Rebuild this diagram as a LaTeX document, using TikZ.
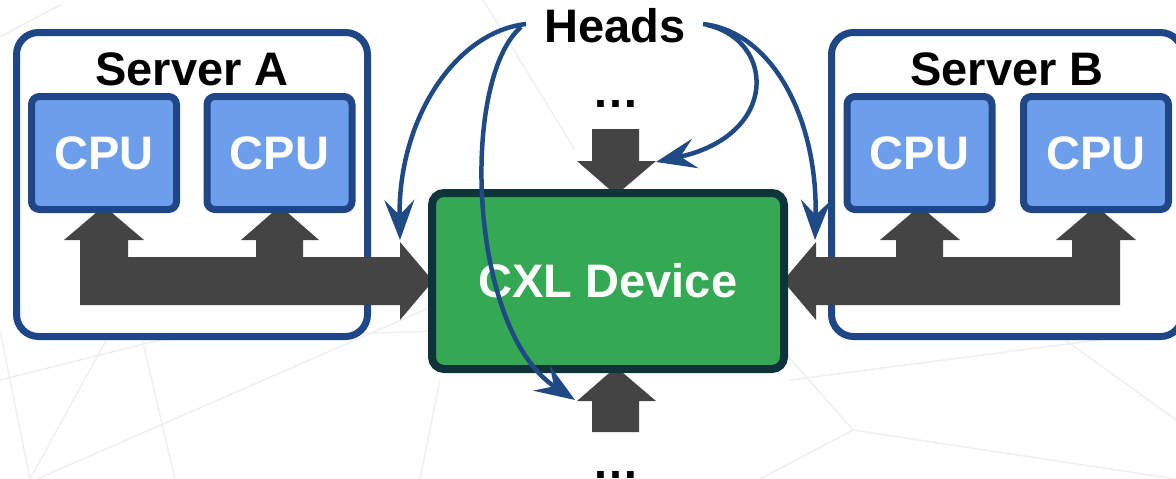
\documentclass[tikz,border=0pt]{standalone}
\usepackage{fontspec}
\setmainfont{Liberation Sans}
\usetikzlibrary{arrows.meta}
\definecolor{srvblue}{HTML}{1F4788}
\definecolor{cpufill}{HTML}{6D9EEB}
\definecolor{cxlfill}{HTML}{34A853}
\definecolor{cxledge}{HTML}{0E3439}
\definecolor{busgray}{HTML}{444444}
\definecolor{bgline}{HTML}{F0F0F0}
\definecolor{headblue}{HTML}{1F4A85}

\begin{document}
\begin{tikzpicture}[x=1pt,y=-1pt,
  lbl/.style={font=\fontsize{47}{56}\selectfont\bfseries},
  serverbox/.style={draw=srvblue,line width=7pt,rounded corners=22pt,fill=white,
    minimum width=351pt,minimum height=304pt,inner sep=0pt},
  cpubox/.style={draw=srvblue,line width=7pt,rounded corners=8pt,fill=cpufill,
    minimum width=145pt,minimum height=113pt,inner sep=0pt,text=white,lbl},
  cxlbox/.style={draw=cxledge,line width=8pt,rounded corners=12pt,fill=cxlfill,
    minimum width=352pt,minimum height=176pt,inner sep=0pt,text=white,lbl},
  bus/.style={fill=busgray},
  headarrow/.style={draw=headblue,line width=4.5pt,
    -{Stealth[length=40pt,width=30pt,inset=15pt]}},
  faint/.style={draw=bgline,line width=1.5pt}]

% canvas
\useasboundingbox (0,0) rectangle (1176,479);
\clip (0,0) rectangle (1176,479);
\fill[white] (0,0) rectangle (1176,479);

% faint background lines
\draw[faint] (0,37) -- (60,5);
\draw[faint] (30,479) -- (175,215);
\draw[faint] (37,479) -- (470,290);
\draw[faint] (0,380) -- (160,340) -- (470,330);
\draw[faint] (0,330) -- (30,479);
\draw[faint] (140,330) -- (175,479);
\draw[faint] (483,0) -- (575,150);
\draw[faint] (440,380) -- (420,479);
\draw[faint] (780,347) -- (853,430) -- (1176,479);
\draw[faint] (853,430) -- (760,479);
\draw[faint] (1010,300) -- (1176,420);
\draw[faint] (790,380) -- (1176,330);

% servers
\node[serverbox] (srvA) at (192,184.5) {};
\node[serverbox] (srvB) at (1007,184.5) {};
\node[lbl,anchor=base] (srvAlbl) at (192,85) {Server A};
\node[lbl,anchor=base] (srvBlbl) at (1007,85) {Server B};

% buses inside the servers
\fill[bus] (80,305) -- (80,240) -- (64,240) -- (104,206) -- (144,240) -- (128,240)
  -- (128,257) -- (256,257) -- (256,240) -- (241,240) -- (280,206) -- (319,240)
  -- (303,240) -- (303,257) -- (400,257) -- (400,242) -- (433,281) -- (400,320)
  -- (400,305) -- cycle;
\fill[bus] (1120,305) -- (1120,240) -- (1136,240) -- (1096,206) -- (1056,240)
  -- (1072,240) -- (1072,257) -- (943,257) -- (943,240) -- (960,240) -- (920,206)
  -- (880,240) -- (896,240) -- (896,257) -- (816,257) -- (816,242) -- (783,281)
  -- (816,320) -- (816,305) -- cycle;

% further ports of the device
\fill[bus] (592,129) -- (639,129) -- (639,161) -- (656,161) -- (616,195)
  -- (577,161) -- (592,161) -- cycle;
\fill[bus] (592,432) -- (639,432) -- (639,401) -- (656,401) -- (616,367)
  -- (577,401) -- (592,401) -- cycle;

% CPUs
\node[cpubox] (cpuA1) at (104,153) {CPU};
\node[cpubox] (cpuA2) at (279.5,153) {CPU};
\node[cpubox] (cpuB1) at (919.5,153) {CPU};
\node[cpubox] (cpuB2) at (1096,153) {CPU};

% device
\node[cxlbox] (cxl) at (608,281) {CXL Device};

% ellipses for the other ports
\node[lbl,anchor=base] (dotsTop) at (616,107) {…};
\node[lbl,anchor=base] (dotsBot) at (616,478) {…};

% heads
\node[lbl,anchor=base] (heads) at (615,42) {Heads};
\coordinate (hl) at (526,24);
\coordinate (hl2) at (521,27);
\coordinate (hr) at (703,24);
\coordinate (hr2) at (707,25);
\coordinate (tA) at (400,240);
\coordinate (tBot) at (575,400);
\coordinate (tB) at (815,240);
\coordinate (tTop) at (656,162);

\draw[headarrow] (hl) .. controls (455,32) and (398,120) .. (tA);
\draw[headarrow] (hl2) .. controls (460,80) and (468,330) .. (tBot);
\draw[headarrow] (hr) .. controls (773,32) and (818,120) .. (tB);
\draw[headarrow] (hr2) .. controls (775,40) and (780,135) .. (tTop);
\end{tikzpicture}
\end{document}
